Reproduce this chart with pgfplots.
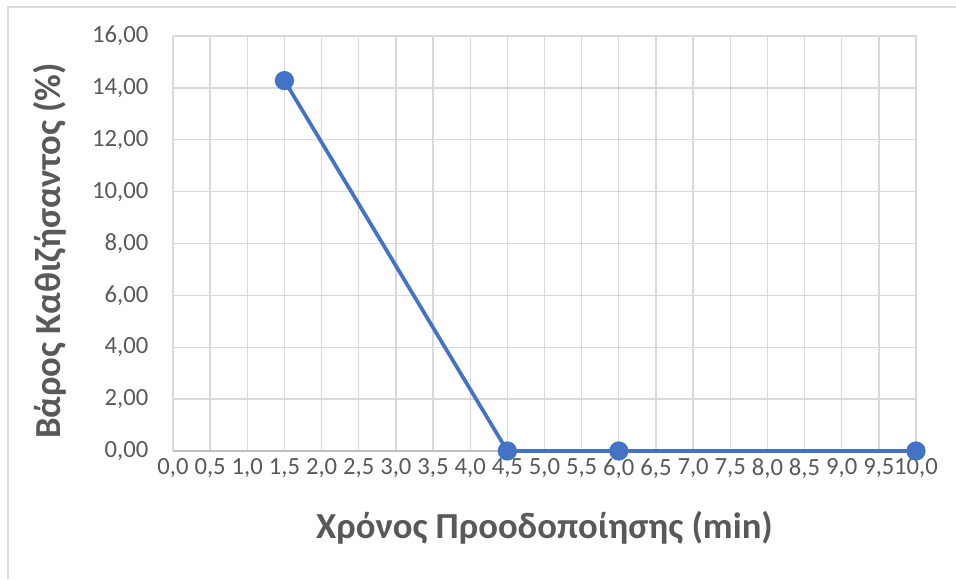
\documentclass[border=0pt]{standalone}
\usepackage{pgfplots}
\pgfplotsset{compat=1.18}
\usepackage{fontspec}
\setmainfont{Carlito}
\definecolor{lineblue}{HTML}{4472C4}
\definecolor{gridgray}{HTML}{D9D9D9}
\definecolor{txtgray}{HTML}{595959}
\definecolor{axgray}{HTML}{BFBFBF}
\begin{document}
\begin{tikzpicture}[x=1pt,y=1pt]
\path[use as bounding box] (-129.75,-96) rectangle (587.25,338.25);
\draw[gridgray, line width=1.2pt] (-123.75,-96) -- (-123.75,333) -- (587.25,333);
\begin{axis}[
  at={(0,0)}, anchor=origin,
  scale only axis,
  width=557.25pt, height=311.25pt,
  xmin=0, xmax=10, ymin=0, ymax=16,
  xtick={0,0.5,1,1.5,2,2.5,3,3.5,4,4.5,5,5.5,6,6.5,7,7.5,8,8.5,9,9.5,10},
  ytick={0,2,4,6,8,10,12,14,16},
  xticklabel style={font=\fontsize{18.5}{21}\selectfont, text=txtgray, /pgf/number format/.cd, use comma, fixed, fixed zerofill, precision=1, assume math mode=true},
  yticklabel style={font=\fontsize{18.5}{21}\selectfont, text=txtgray, /pgf/number format/.cd, use comma, fixed, fixed zerofill, precision=2, assume math mode=true},
  major tick length=0pt,
  grid=major,
  grid style={gridgray, line width=1pt},
  axis line style={draw=none},
  xtick pos=bottom, ytick pos=left,
  xticklabel shift=2pt,
  yticklabel shift=15pt,
  clip=false,
]
\draw[axgray, line width=1.2pt] (axis cs:0,0) -- (axis cs:10,0);
\addplot[color=lineblue, line width=2.8pt, mark=*, mark size=5.8pt, mark options={fill=lineblue, draw=lineblue}]
  coordinates {(1.5,14.28) (4.5,0) (6,0) (10,0)};
\end{axis}
\node[text=txtgray, font=\bfseries\fontsize{27.5}{32}\selectfont] at (278.6,-57.75) {Χρόνος Προοδοποίησης (min)};
\node[text=txtgray, font=\bfseries\fontsize{27.5}{32}\selectfont, rotate=90] at (-92.25,150) {Βάρος Καθιζήσαντος (\%)};
\end{tikzpicture}
\end{document}
